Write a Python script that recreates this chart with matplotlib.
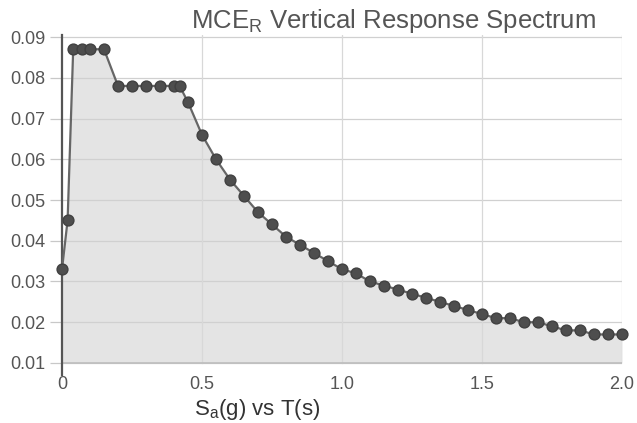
import numpy as np
import matplotlib.pyplot as plt

plt.rcParams['font.family'] = ['Liberation Sans', 'DejaVu Sans']

# periodo T (s) e aceleracao espectral Sa (g)
T = [0.0, 0.02, 0.04, 0.07, 0.1, 0.15,
     0.2, 0.25, 0.3, 0.35, 0.4, 0.42, 0.45,
     0.5, 0.55, 0.6, 0.65, 0.7, 0.75, 0.8, 0.85, 0.9, 0.95,
     1.0, 1.05, 1.1, 1.15, 1.2, 1.25, 1.3, 1.35, 1.4, 1.45,
     1.5, 1.55, 1.6, 1.65, 1.7, 1.75, 1.8, 1.85, 1.9, 1.95, 2.0]
Sa = [0.033, 0.045, 0.087, 0.087, 0.087, 0.087,
      0.078, 0.078, 0.078, 0.078, 0.078, 0.078, 0.074,
      0.066, 0.060, 0.055, 0.051, 0.047, 0.044, 0.041, 0.039, 0.037, 0.035,
      0.033, 0.032, 0.030, 0.029, 0.028, 0.027, 0.026, 0.025, 0.024, 0.023,
      0.022, 0.021, 0.021, 0.020, 0.020, 0.019, 0.018, 0.018, 0.017, 0.017, 0.017]

xticks = [0, 0.5, 1.0, 1.5, 2.0]
xlabels = ['0', '0.5', '1.0', '1.5', '2.0']
yticks = [0.01, 0.02, 0.03, 0.04, 0.05, 0.06, 0.07, 0.08, 0.09]

fig = plt.figure(figsize=(6.37, 4.23), dpi=100)
ax = fig.add_axes([62/637, 1 - 375/423, 560/637, (375 - 35)/423])

ax.fill_between(T, Sa, 0.01, color='#e4e4e4', lw=0)
ax.plot(T, Sa, color='#666666', lw=1.6, marker='o', ms=7.8,
        mfc='#4e4e4e', mec='#404040', zorder=3, clip_on=False)

ax.set_xlim(0, 2.0)
ax.set_ylim(0.00705, 0.0905)
ax.set_xticks(xticks)
ax.set_xticklabels(xlabels)
ax.set_yticks(yticks)
ax.set_yticklabels(['%.2f' % v for v in yticks])

for v in yticks:
    ax.axhline(v, color='#d0d0d0', lw=0.9, zorder=1)
for v in xticks[1:]:
    ax.axvline(v, ymin=(0.01 - 0.00705) / (0.0905 - 0.00705), color='#d8d8d8', lw=0.9, zorder=1)
ax.axhline(0.01, color='#bdbdbd', lw=1.2, zorder=2)

for s in ['top', 'right', 'bottom']:
    ax.spines[s].set_visible(False)
ax.spines['left'].set_color('#555555')
ax.spines['left'].set_linewidth(1.6)

ax.tick_params(axis='y', length=9, width=0.9, color='#c8c8c8', labelsize=13,
               labelcolor='#555555', pad=3)
ax.tick_params(axis='x', length=0, labelsize=13, labelcolor='#555555', pad=1)

fig.text(394/637, 1 - 21/423, r'MCE$_\mathregular{R}$ Vertical Response Spectrum',
         ha='center', va='center', fontsize=18.5, color='#555555')
fig.text(257/637, 1 - 409/423, r'S$_\mathregular{a}$(g) vs T(s)',
         ha='center', va='center', fontsize=16, color='#333333')

plt.savefig('out.png', dpi=100)
